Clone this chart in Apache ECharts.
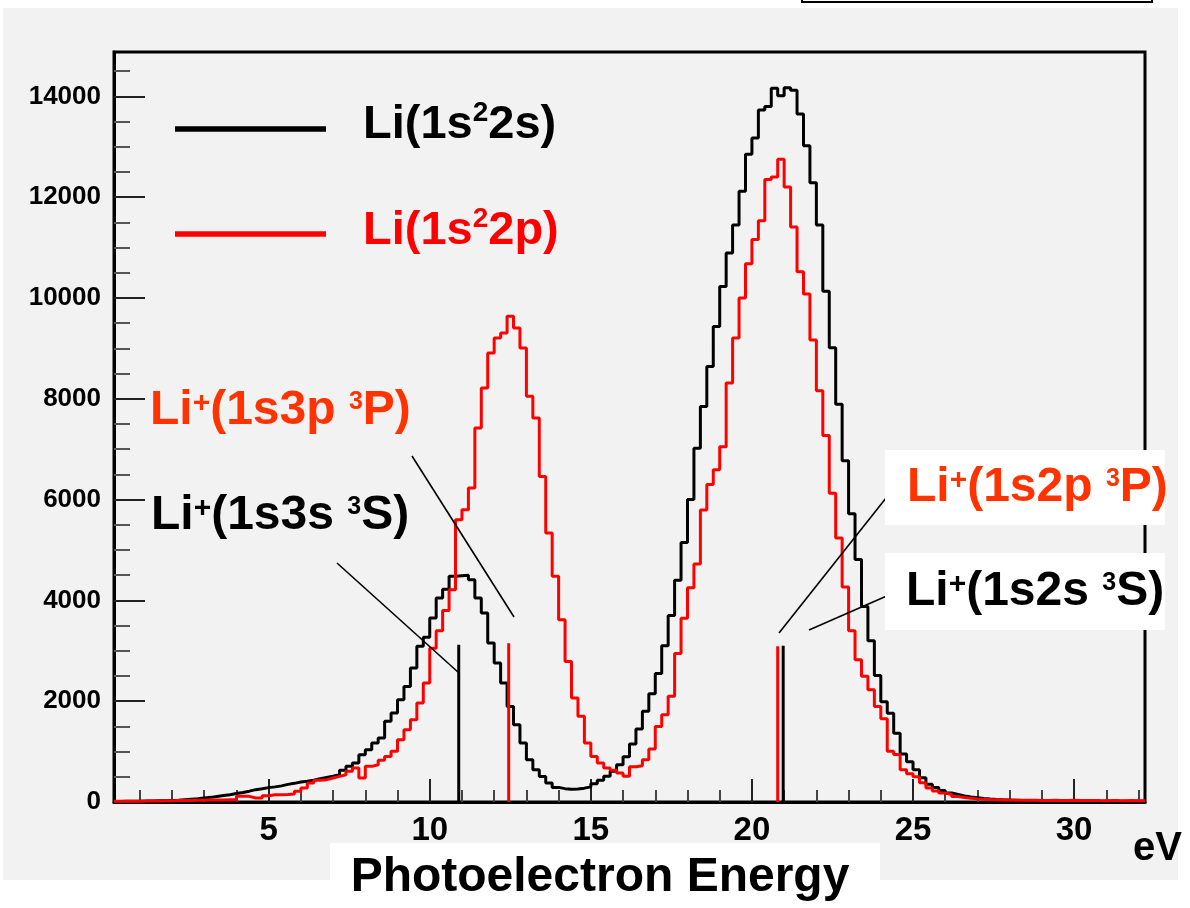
<!DOCTYPE html>
<html>
<head>
<meta charset="utf-8">
<script src="https://cdn.jsdelivr.net/npm/echarts@6/dist/echarts.min.js"></script>
<style>
  html, body { margin: 0; padding: 0; background: #ffffff; }
  #chart { width: 1190px; height: 908px; }
</style>
</head>
<body>
<div id="chart"></div>
<script>
// Photoelectron energy spectra, histogrammed in 0.2 eV bins from 0.2 to 32.2 eV.
const BIN_START = 0.2;
const BIN_WIDTH = 0.2;

// Li(1s^2 2s) counts per bin (left edge 0.2, 0.4, ... 32.0 eV)
const countsLi2s = [
  12, 14, 15, 17, 19, 21, 24, 27, 31, 35,
  45, 55, 65, 79, 92, 110, 128, 145, 170, 190,
  215, 245, 262, 285, 300, 320, 350, 370, 395, 410,
  430, 460, 485, 510, 542, 628, 707, 774, 939, 1038,
  1171, 1270, 1600, 1766, 2030, 2294, 2658, 3088, 3270, 3651,
  4047, 4220, 4477, 4490, 4500, 4411, 4047, 3750, 3155, 2758,
  2361, 1897, 1534, 1171, 839, 641, 508, 377, 290, 265,
  255, 258, 275, 300, 360, 430, 510, 610, 740, 900,
  1150, 1450, 1800, 2150, 2550, 3100, 3700, 4400, 5150, 6000,
  7020, 7849, 8642, 9436, 10230, 10890, 11450, 12115, 12850, 13173,
  13730, 13800, 14160, 14010, 14170, 14120, 13650, 13020, 12285, 11450,
  10135, 9012, 7890, 6770, 5720, 4810, 3880, 3200, 2510, 1990,
  1760, 1365, 950, 800, 640, 480, 350, 290, 230, 180,
  150, 120, 100, 85, 70, 60, 52, 45, 40, 36,
  32, 30, 28, 26, 24, 23, 22, 21, 20, 19,
  18, 18, 17, 16, 16, 15, 15, 14, 14, 13
];

// Li(1s^2 2p) counts per bin
const countsLi2p = [
  15, 15, 16, 17, 18, 20, 22, 24, 26, 28,
  30, 32, 34, 36, 38, 40, 42, 44, 46, 112,
  112, 79, 79, 126, 145, 145, 150, 160, 211, 278,
  377, 430, 443, 476, 509, 542, 608, 674, 476, 707,
  740, 826, 905, 1005, 1237, 1435, 1634, 1964, 2361, 3050,
  3400, 3800, 4212, 5600, 5800, 6230, 7420, 8214, 8908, 9206,
  9305, 9635, 9404, 9007, 8048, 7619, 6460, 5337, 4477, 3617,
  2790, 2063, 1699, 1171, 905, 774, 675, 628, 575, 509,
  700, 720, 840, 1050, 1500, 1730, 2100, 2945, 3646, 4252,
  4720, 5793, 6300, 6590, 7050, 8313, 9206, 10000, 10680, 11160,
  11530, 12350, 12400, 12750, 12200, 11410, 10520, 10080, 9165, 8160,
  7270, 6125, 5236, 4265, 3400, 2823, 2493, 2228, 1897, 1650,
  1005, 940, 640, 560, 500, 380, 280, 220, 180, 150,
  110, 90, 75, 62, 55, 48, 44, 40, 38, 36,
  34, 33, 35, 32, 30, 33, 31, 29, 34, 30,
  28, 32, 29, 27, 31, 28, 26, 30, 27, 25
];

// Sharp Li+ satellite lines: [energy eV, height counts]
const linesLi2s = [[10.9, 3120], [20.97, 3100]];
const linesLi2p = [[12.45, 3150], [20.8, 3090]];

const xMajorTicks = [5, 10, 15, 20, 25, 30];
const xMinorTicks = [1, 2, 3, 4, 6, 7, 8, 9, 11, 12, 13, 14, 16, 17, 18, 19, 21, 22, 23, 24, 26, 27, 28, 29, 31, 32];
const yMajorTicks = [0, 2000, 4000, 6000, 8000, 10000, 12000, 14000];
const yMinorTicks = [500, 1000, 1500, 2500, 3000, 3500, 4500, 5000, 5500, 6500, 7000, 7500,
                     8500, 9000, 9500, 10500, 11000, 11500, 12500, 13000, 13500, 14500];

const X_MIN = 0.2, X_MAX = 32.2, Y_MAX = 14880;

const FONT = '"Liberation Sans", Arial, Helvetica, sans-serif';
const RED = '#ff0000';
const ORANGE = '#ff3300';

// histogram outline: one point per bin edge, drawn as a step line
function stepData(counts) {
  const d = counts.map((c, i) => [+(BIN_START + i * BIN_WIDTH).toFixed(2), c]);
  d.push([+(BIN_START + counts.length * BIN_WIDTH).toFixed(2), counts[counts.length - 1]]);
  return d;
}

function histSeries(name, counts, color, z) {
  return {
    name, type: 'line', step: 'end', data: stepData(counts),
    xAxisIndex: 0, yAxisIndex: 0,
    symbol: 'none', clip: true, z,
    lineStyle: { color, width: 3 }
  };
}

function spikeSeries(lines, color, z) {
  return lines.map(([e, h]) => ({
    type: 'line', data: [[e, 0], [e, h]],
    xAxisIndex: 0, yAxisIndex: 0,
    symbol: 'none', z,
    lineStyle: { color, width: 3 }
  }));
}

// rich text styles for the annotations: a = main text, p = raised "+",
// s = raised term multiplicity, t = superscript electron count
function richStyles(color, size) {
  const base = { fontWeight: 'bold', fontFamily: FONT, fill: color };
  return {
    a: { ...base, fontSize: size, lineHeight: 50, verticalAlign: 'bottom' },
    p: { ...base, fontSize: 30, verticalAlign: 'middle', padding: [0, 0, 12, 0] },
    s: { ...base, fontSize: 25, verticalAlign: 'middle', padding: [0, 0, 16, 0] },
    t: { ...base, fontSize: 28, lineHeight: 36, verticalAlign: 'top' }
  };
}

function label(x, y, text, color, size) {
  return {
    type: 'text', x, y, z: 80,
    style: { text, rich: richStyles(color, size || 48), verticalAlign: 'top', align: 'left' }
  };
}

function seg(x1, y1, x2, y2, w) {
  return { type: 'line', z: 60, shape: { x1, y1, x2, y2 }, style: { stroke: '#000', lineWidth: w || 1.6 } };
}

const chart = echarts.init(document.getElementById('chart'), null, { renderer: 'canvas' });

const axisText = { fontFamily: FONT, fontWeight: 'bold', color: '#000', formatter: v => String(v) };

chart.setOption({
  animation: false,
  backgroundColor: '#ffffff',
  grid: {
    left: 114, right: 45, top: 52, bottom: 106,
    show: true, borderColor: '#000', borderWidth: 3, backgroundColor: 'transparent'
  },
  xAxis: [
    {
      type: 'value', min: X_MIN, max: X_MAX,
      axisLine: { show: true, onZero: false, lineStyle: { color: '#000', width: 3 } },
      axisTick: { show: true, inside: true, length: 23, customValues: xMajorTicks, lineStyle: { color: '#222', width: 2 } },
      axisLabel: { show: true, customValues: xMajorTicks, margin: 12, fontSize: 33, ...axisText },
      splitLine: { show: false }
    },
    {
      type: 'value', min: X_MIN, max: X_MAX, position: 'bottom',
      axisLine: { show: false },
      axisTick: { show: true, inside: true, length: 12, customValues: xMinorTicks, lineStyle: { color: '#444', width: 2 } },
      axisLabel: { show: false, customValues: xMinorTicks },
      splitLine: { show: false }
    }
  ],
  yAxis: [
    {
      type: 'value', min: 0, max: Y_MAX, position: 'left',
      axisLine: { show: true, onZero: false, lineStyle: { color: '#000', width: 3 } },
      axisTick: { show: true, inside: true, length: 31, customValues: yMajorTicks, lineStyle: { color: '#222', width: 2 } },
      axisLabel: { show: true, customValues: yMajorTicks, margin: 13, fontSize: 26, ...axisText },
      splitLine: { show: false }
    },
    {
      type: 'value', min: 0, max: Y_MAX, position: 'left', offset: 0,
      axisLine: { show: false },
      axisTick: { show: true, inside: true, length: 16, customValues: yMinorTicks, lineStyle: { color: '#555', width: 2 } },
      axisLabel: { show: false, customValues: yMinorTicks },
      splitLine: { show: false }
    }
  ],
  series: [
    histSeries('Li(1s²2s)', countsLi2s, '#000000', 3),
    ...spikeSeries(linesLi2s, '#000000', 3),
    histSeries('Li(1s²2p)', countsLi2p, RED, 4),
    ...spikeSeries(linesLi2p, RED, 4)
  ],
  graphic: [
    // light panel behind the plot
    { type: 'rect', z: -100, shape: { x: 3, y: 8, width: 1175, height: 872 }, style: { fill: '#f2f2f2' } },
    // box edge at the top right
    { type: 'rect', z: -90, shape: { x: 802, y: -6, width: 350, height: 8 }, style: { fill: 'none', stroke: '#000', lineWidth: 2 } },
    // axis title box
    { type: 'rect', z: -50, shape: { x: 330, y: 843, width: 550, height: 70 }, style: { fill: '#ffffff' } },
    {
      type: 'text', x: 600, y: 854, z: 80,
      style: { text: 'Photoelectron Energy', font: 'bold 48px ' + FONT, fill: '#000', align: 'center', verticalAlign: 'top' }
    },
    {
      type: 'text', x: 1133, y: 829, z: 80,
      style: { text: 'eV', font: 'bold 40px ' + FONT, fill: '#000', align: 'left', verticalAlign: 'top' }
    },

    // legend
    { type: 'line', z: 60, shape: { x1: 175, y1: 129, x2: 326, y2: 129 }, style: { stroke: '#000', lineWidth: 5.5 } },
    { type: 'line', z: 60, shape: { x1: 175, y1: 234, x2: 326, y2: 234 }, style: { stroke: RED, lineWidth: 5.5 } },
    label(363, 99, '{a|Li(1s}{t|2}{a|2s)}', '#000', 47),
    label(363, 205, '{a|Li(1s}{t|2}{a|2p)}', RED, 47),

    // leader lines
    seg(412, 456, 514, 617),
    seg(337, 563, 459, 673),
    seg(890, 493, 779, 633),
    seg(889, 595, 809, 630),

    // white boxes behind the right-hand labels
    { type: 'rect', z: 70, shape: { x: 885, y: 450, width: 280, height: 75 }, style: { fill: '#ffffff' } },
    { type: 'rect', z: 70, shape: { x: 885, y: 553, width: 280, height: 77 }, style: { fill: '#ffffff' } },

    label(150, 385, '{a|Li}{p|+}{a|(1s3p }{s|3}{a|P)}', ORANGE),
    label(151, 490, '{a|Li}{p|+}{a|(1s3s }{s|3}{a|S)}', '#000'),
    label(907, 462, '{a|Li}{p|+}{a|(1s2p }{s|3}{a|P)}', ORANGE),
    label(906, 566, '{a|Li}{p|+}{a|(1s2s }{s|3}{a|S)}', '#000')
  ]
});
</script>
</body>
</html>
